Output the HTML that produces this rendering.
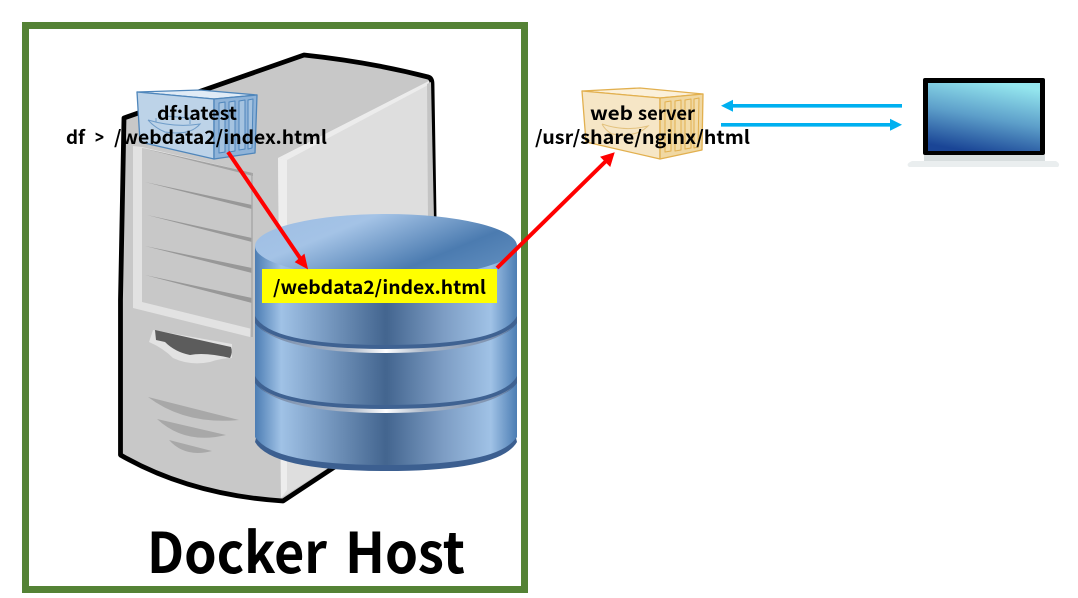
<!DOCTYPE html>
<html><head><meta charset="utf-8"><style>
html,body{margin:0;padding:0;background:#fff;width:1078px;height:598px;overflow:hidden}
svg{display:block}
text{font-family:"Noto Sans CJK KR","Liberation Sans",sans-serif;font-weight:700;fill:#000}
</style></head><body>
<svg width="1078" height="598" viewBox="0 0 1078 598" xmlns="http://www.w3.org/2000/svg">
<defs>
<linearGradient id="band" x1="0" x2="1" y1="0" y2="0">
<stop offset="0" stop-color="#4c7db3"/><stop offset=".1" stop-color="#a0c2e6"/><stop offset=".25" stop-color="#7d9fc6"/><stop offset=".5" stop-color="#43658f"/><stop offset=".72" stop-color="#7d9dc4"/><stop offset=".9" stop-color="#a0c2e6"/><stop offset="1" stop-color="#4c7db3"/>
</linearGradient>
<linearGradient id="top" x1="0" x2="1" y1="0" y2=".6">
<stop offset="0" stop-color="#9dbde3"/><stop offset=".35" stop-color="#a4c3e6"/><stop offset=".8" stop-color="#4b7bb0"/><stop offset="1" stop-color="#5a88ba"/>
</linearGradient>
<linearGradient id="scr" x1=".35" x2=".65" y1="1" y2="0">
<stop offset="0" stop-color="#1a4596"/><stop offset=".5" stop-color="#5d9fca"/><stop offset="1" stop-color="#94e6ee"/>
</linearGradient>
<linearGradient id="sep" x1="0" x2="1" y1="0" y2="0">
<stop offset="0" stop-color="#6f86a8"/><stop offset=".35" stop-color="#a9b5c6"/><stop offset=".5" stop-color="#fff"/><stop offset=".65" stop-color="#a9b5c6"/><stop offset="1" stop-color="#6f86a8"/>
</linearGradient>
</defs>
<rect x="25.5" y="25.5" width="499" height="564" fill="#fff" stroke="#548235" stroke-width="7"/>

<!-- server -->
<path d="M124 118 L304 55 Q370 62 428 77 Q432 78 432 84 L436 340 L436 400 L283 501 Q190 495 120.5 455 L120.5 300 Z" fill="#c8c8c8" stroke="#000" stroke-width="4.8" stroke-linejoin="round"/>
<path d="M281 498 L278 158 L429 81 L434 400 Z" fill="#dedede"/>
<path d="M278 158 L287 160 L287 490 L281 498 Z" fill="#ededed"/>
<path d="M278 158 L429 81 L430 84 L287 160 Z" fill="#ececec"/>
<path d="M427 84 L431 82 L434 220 L428 220 Z" fill="#c4c4c4"/>
<!-- front panel -->
<path d="M133 146 L142 147 L253 173 L250 337 L133 308 Z" fill="#e2e2e2"/>
<path d="M142 148 L252 173 L252 329 L142 302 Z" fill="#c8c8c8"/>
<path d="M142 148 L253 173 L253 176 Z" fill="#a2a2a2"/>
<path d="M145 182 L252 205 L252 209 Z" fill="#989898"/>
<path d="M147 215 L252 238 L252 242 Z" fill="#989898"/>
<path d="M145 246 L252 268 L252 273 Z" fill="#989898"/>
<path d="M145 275 L252 298 L252 303 Z" fill="#989898"/>
<path d="M252 173 L252 337" stroke="#a8a8a8" stroke-width="1.5" fill="none"/>
<!-- slot -->
<path d="M153 330 L149 342 Q163 348 173 358 Q190 366 210 362 Q222 358 232 358 L232 344 Z" fill="#e2e2e2"/>
<path d="M155 330 L231 347 Q233 352 230 358 Q205 352 190 355 Q175 352 165 342 L156 340 Z" fill="#5c5c5c"/>
<!-- vents -->
<path d="M148 397 Q185 425 239 420 Z" fill="#a8a8a8"/>
<path d="M157 419 Q185 445 226 435 Z" fill="#a8a8a8"/>
<path d="M169 440 Q185 458 212 451 Z" fill="#a8a8a8"/>

<!-- database -->
<path d="M255 437 L255 246 L517 246 L517 437 Q500 470 386 470 Q272 470 255 437 Z" fill="url(#band)"/>
<path d="M256 438 Q275 465 386 465 Q497 465 516 438 L517 442 Q500 471 386 471 Q272 471 255 442 Z" fill="#3c5f90"/>
<path d="M255 376 Q270 405 386 405 Q502 405 517 376 L517 383 Q500 409 386 409 Q272 409 255 383 Z" fill="#3f6292"/>
<path d="M258 386 Q285 409 386 409 Q487 409 514 386 Q487 413 386 413 Q285 413 258 386 Z" fill="url(#sep)"/>
<path d="M255 316 Q270 345 386 345 Q502 345 517 316 L517 323 Q500 349 386 349 Q272 349 255 323 Z" fill="#3f6292"/>
<path d="M258 326 Q285 349 386 349 Q487 349 514 326 Q487 353 386 353 Q285 353 258 326 Z" fill="url(#sep)"/>
<ellipse cx="386" cy="246" rx="131" ry="32" fill="url(#top)"/>

<!-- containers -->
<g stroke="#4f86bb" stroke-width="1.3" stroke-linejoin="round">
<path d="M137 92 L200 90 L257 95 L214 99 Z" fill="#e0ebf6"/>
<path d="M137 92 L214 99 L214 159 L140 142 Z" fill="#bdd3e8"/>
<path d="M214 99 L257 95 L255 153 L214 159 Z" fill="#8fb3d8"/>
<path d="M219 103 L225 102 L225 152 L219 153 Z M229 102 L235 101 L235 151 L229 152 Z M239 101 L245 100 L245 149 L239 150 Z M248 100 L253 99 L252 148 L248 149 Z" fill="#a5c3e0" stroke-width="1"/>
</g>
<g fill="none" stroke="#6f9cc8" stroke-width="1">
<path d="M148 120 Q175 128 200 124 Q190 136 165 132 Q155 128 148 120"/>
<path d="M156 118 L156 122 M165 116 L190 118 L190 124"/>
</g>
<g stroke="#e2b04f" stroke-width="1.3" stroke-linejoin="round">
<path d="M582 91 L640 88 L703 94 L660 98 Z" fill="#fbf0da"/>
<path d="M582 91 L660 98 L660 159 L586 142 Z" fill="#f6e6c6"/>
<path d="M660 98 L703 94 L702 150 L660 159 Z" fill="#f0d8a3"/>
<path d="M665 102 L671 101 L671 151 L665 152 Z M675 101 L681 100 L681 150 L675 151 Z M685 100 L691 99 L691 148 L685 149 Z M694 99 L699 98 L698 147 L694 148 Z" fill="#f3dca9" stroke-width="1"/>
</g>
<path d="M602 124 Q625 132 648 126 Q636 138 612 134 Q605 130 602 124" fill="none" stroke="#e3c27f" stroke-width="1"/>

<!-- laptop -->
<path d="M912 161 L1056 161 Q1061 164 1058 167 L909 167 Q905 164 912 161 Z" fill="#eaeeef"/>
<rect x="924" y="155" width="121" height="6" fill="#d8dedf"/>
<rect x="923" y="78" width="122" height="77" rx="2" fill="#000"/>
<rect x="928" y="83" width="112" height="68" fill="url(#scr)"/>

<!-- blue arrows -->
<path d="M902 105.8 H730" stroke="#00b0f0" stroke-width="3.6" fill="none"/>
<path d="M721 105.8 L733 99.8 L733 111.8 Z" fill="#00b0f0"/>
<path d="M721 124.8 H892" stroke="#00b0f0" stroke-width="3.6" fill="none"/>
<path d="M902 124.8 L890 118.8 L890 130.8 Z" fill="#00b0f0"/>

<!-- yellow box -->
<rect x="262" y="269" width="235" height="34" fill="#ffff00"/>

<!-- red arrows -->
<path d="M228 152 L300 258" stroke="#ff0000" stroke-width="4" fill="none"/>
<path d="M307 268 L296 262 L304 255 Z" fill="#ff0000" stroke="#ff0000" stroke-width="1.5"/>
<path d="M497 268 L606 161" stroke="#ff0000" stroke-width="4" fill="none"/>
<path d="M614 153 L610 166 L601 157 Z" fill="#ff0000" stroke="#ff0000" stroke-width="1"/>

<!-- labels -->
<text x="157" y="120" font-size="18.5" textLength="80" lengthAdjust="spacingAndGlyphs">df:latest</text>
<text x="66" y="144" font-size="18.5" textLength="19" lengthAdjust="spacingAndGlyphs">df</text>
<text x="95" y="144" font-size="18.5" textLength="9" lengthAdjust="spacingAndGlyphs">&gt;</text>
<text x="114" y="144" font-size="18.5" textLength="213" lengthAdjust="spacingAndGlyphs">/webdata2/index.html</text>
<text x="590" y="120" font-size="18.5" textLength="43" lengthAdjust="spacingAndGlyphs">web</text>
<text x="638" y="120" font-size="18.5" textLength="57" lengthAdjust="spacingAndGlyphs">server</text>
<text x="535" y="144" font-size="18.5" textLength="215" lengthAdjust="spacingAndGlyphs">/usr/share/nginx/html</text>
<text x="273" y="294" font-size="18.5" textLength="213" lengthAdjust="spacingAndGlyphs">/webdata2/index.html</text>
<text x="147" y="573" font-size="56" textLength="180" lengthAdjust="spacingAndGlyphs">Docker</text>
<text x="345" y="573" font-size="56" textLength="120" lengthAdjust="spacingAndGlyphs">Host</text>
</svg>
</body></html>
